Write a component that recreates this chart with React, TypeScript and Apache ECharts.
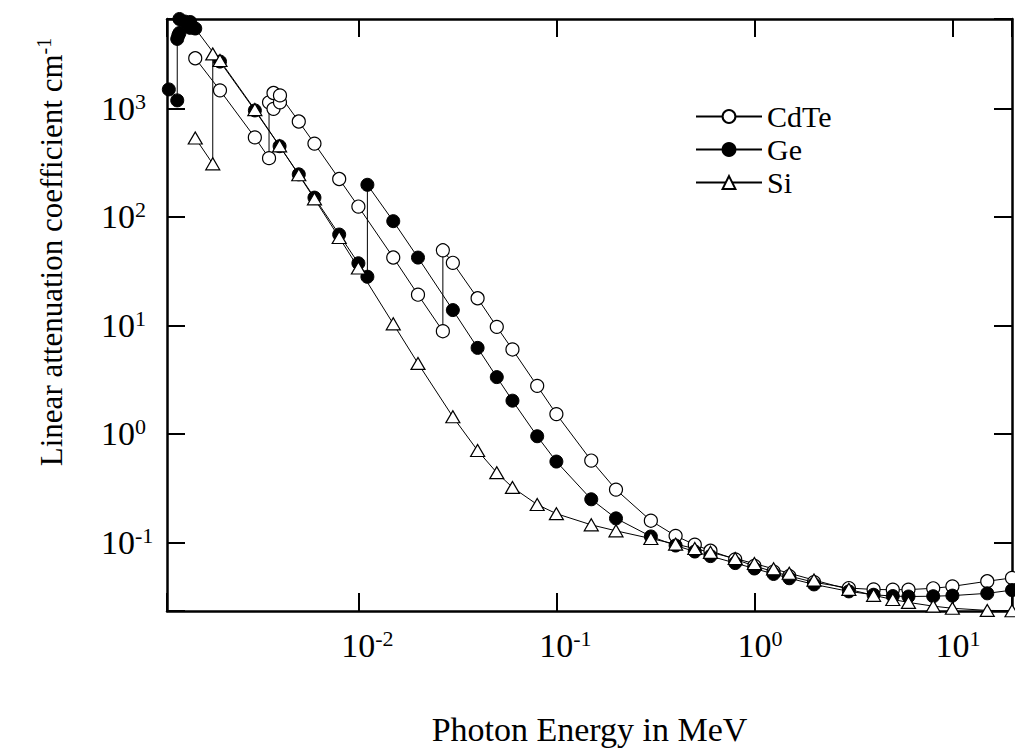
import React, { useEffect, useRef } from "react";
import * as echarts from "echarts";

// Photon energy (MeV) and attenuation coefficient values
const cdteEnergy = [0.0015, 0.002, 0.003, 0.003538, 0.003538, 0.003727, 0.003727, 0.004018, 0.004018, 0.005, 0.006, 0.008, 0.01, 0.015, 0.02, 0.02671, 0.02671, 0.03, 0.04, 0.05, 0.06, 0.08, 0.1, 0.15, 0.2, 0.3, 0.4, 0.5, 0.6, 0.8, 1, 1.25, 1.5, 2, 3, 4, 5, 6, 8, 10, 15, 20];
const cdteMu = [2911, 1472, 542, 349, 1142, 994, 1392, 1142, 1323, 760, 475, 224, 124.8, 42.3, 19.2, 8.84, 49.3, 37.8, 17.8, 9.7, 6.0, 2.77, 1.52, 0.567, 0.306, 0.158, 0.1146, 0.0949, 0.0835, 0.0695, 0.0605, 0.0535, 0.0488, 0.0428, 0.0378, 0.0367, 0.0365, 0.0366, 0.0376, 0.0392, 0.0437, 0.0469];

const geEnergy = [0.00110304, 0.0012167, 0.0012167, 0.00123215, 0.0012478, 0.0012478, 0.00132844, 0.0014143, 0.0014143, 0.0015, 0.002, 0.003, 0.004, 0.005, 0.006, 0.008, 0.01, 0.0111031, 0.0111031, 0.015, 0.02, 0.03, 0.04, 0.05, 0.06, 0.08, 0.1, 0.15, 0.2, 0.3, 0.4, 0.5, 0.6, 0.8, 1, 1.25, 1.5, 2, 3, 4, 5, 6, 8, 10, 15, 20];
const geMu = [1502, 1190, 4389, 4734, 4974, 6698, 6348, 5554, 6287, 5475, 2711, 961.3, 449.7, 247.2, 150.9, 68.9, 37.42, 28.11, 198.2, 91.52, 42.22, 13.85, 6.207, 3.335, 2.023, 0.9501, 0.555, 0.2491, 0.1661, 0.1131, 0.09327, 0.08212, 0.07452, 0.06426, 0.05727, 0.05101, 0.04657, 0.04086, 0.03524, 0.0328, 0.0319, 0.0316, 0.0318, 0.0322, 0.0338, 0.0362];

const siEnergy = [0.0015, 0.0018389, 0.0018389, 0.002, 0.003, 0.004, 0.005, 0.006, 0.008, 0.01, 0.015, 0.02, 0.03, 0.04, 0.05, 0.06, 0.08, 0.1, 0.15, 0.2, 0.3, 0.4, 0.5, 0.6, 0.8, 1, 1.25, 1.5, 2, 3, 4, 5, 6, 8, 10, 15, 20];
const siMu = [535.5, 309.2, 3192, 2777, 978.4, 452.9, 245.0, 147.0, 64.68, 33.89, 10.34, 4.464, 1.436, 0.7012, 0.4385, 0.3207, 0.2228, 0.1835, 0.1448, 0.1275, 0.1082, 0.09614, 0.08748, 0.08077, 0.07082, 0.06361, 0.05688, 0.05183, 0.0448, 0.03678, 0.0324, 0.02967, 0.02788, 0.02574, 0.02462, 0.02352, 0.02338];

const seriesNames = ["CdTe", "Ge", "Si"];
const xMin = 0.00108;
const xMax = 20;
const yMin = 0.02323;
const yMax = 6700;
const xTitle = "Photon Energy in MeV";
const yTitle = "Linear attenuation coefficient cm";
const yTitleSup = "-1";

const FONT = '"Liberation Serif", "Times New Roman", Times, serif';

function powerOf(v: number): number | null {
  const l = Math.log10(v);
  const e = Math.round(l);
  if (Math.abs(l - e) > 1e-6) return null;
  return e;
}

const pairs = (xs: number[], ys: number[]) => xs.map((x, i) => [x, ys[i]]);

export default function App() {
  const ref = useRef<HTMLDivElement>(null);

  useEffect(() => {
    if (!ref.current) return;
    const chart = echarts.init(ref.current, undefined, { renderer: "svg" });

    const baseRich = {
      fontFamily: FONT,
      fontSize: 34,
      color: "#000",
      lineHeight: 36,
    };
    const supRich = {
      fontFamily: FONT,
      fontSize: 22,
      color: "#000",
      lineHeight: 20,
      verticalAlign: "top",
    };

    const tickStyle = { show: true, inside: true, length: 18, lineStyle: { color: "#000", width: 2 } };
    const lineStyleAxis = { show: true, onZero: false, lineStyle: { color: "#000", width: 2.5 } };

    const commonLine = {
      type: "line",
      lineStyle: { color: "#000", width: 1 },
      emphasis: { disabled: true },
      animation: false,
    };

    chart.setOption({
      animation: false,
      backgroundColor: "#fff",
      grid: { left: 167, right: 2, top: 19, bottom: 136 },
      legend: {
        data: seriesNames,
        orient: "vertical",
        left: 695,
        top: 100,
        padding: 0,
        itemWidth: 66,
        itemHeight: 16,
        itemGap: 0,
        textStyle: { fontFamily: FONT, fontSize: 30, color: "#000", lineHeight: 33 },
        selectedMode: false,
      },
      xAxis: [
        {
          type: "log",
          logBase: 10,
          min: xMin,
          max: xMax,
          position: "bottom",
          axisLine: lineStyleAxis,
          axisTick: tickStyle,
          splitLine: { show: false },
          minorTick: { show: false },
          axisLabel: {
            margin: 16,
            formatter: (v: number) => {
              const e = powerOf(v);
              if (e === null) return "";
              return e < 0 ? `{bn|10}{s|${e}}` : `{bp|10}{s|${e}}`;
            },
            rich: {
              bn: { ...baseRich, padding: [0, 0, 0, 18] },
              bp: { ...baseRich, padding: [0, 0, 0, 11] },
              s: supRich,
            },
          },
          name: xTitle,
          nameLocation: "middle",
          nameGap: 101,
          nameTextStyle: { fontFamily: FONT, fontSize: 34, color: "#000" },
        },
        {
          type: "log",
          logBase: 10,
          min: xMin,
          max: xMax,
          position: "top",
          axisLine: lineStyleAxis,
          axisTick: tickStyle,
          axisLabel: { show: false },
          splitLine: { show: false },
        },
      ],
      yAxis: [
        {
          type: "log",
          logBase: 10,
          min: yMin,
          max: yMax,
          position: "left",
          axisLine: lineStyleAxis,
          axisTick: tickStyle,
          splitLine: { show: false },
          axisLabel: {
            align: "left",
            margin: 66,
            formatter: (v: number) => {
              const e = powerOf(v);
              if (e === null) return "";
              return `{b|10}{s|${e}}`;
            },
            rich: { b: baseRich, s: supRich },
          },
        },
        {
          type: "log",
          logBase: 10,
          min: yMin,
          max: yMax,
          position: "right",
          axisLine: lineStyleAxis,
          axisTick: tickStyle,
          axisLabel: { show: false },
          splitLine: { show: false },
        },
      ],
      graphic: [
        {
          type: "text",
          x: 51,
          y: 252,
          rotation: Math.PI / 2,
          style: {
            text: `{t|${yTitle}}{s|${yTitleSup}}`,
            align: "center",
            verticalAlign: "middle",
            textAlign: "center",
            textVerticalAlign: "middle",
            rich: {
              t: { fontFamily: FONT, fontSize: 31, fill: "#000", lineHeight: 34 },
              s: { fontFamily: FONT, fontSize: 20, fill: "#000", lineHeight: 18, verticalAlign: "top" },
            },
          },
        },
      ],
      series: [
        {
          ...commonLine,
          name: seriesNames[0],
          data: pairs(cdteEnergy, cdteMu),
          symbol: "circle",
          symbolSize: 13,
          itemStyle: { color: "#fff", borderColor: "#000", borderWidth: 1.2 },
        },
        {
          ...commonLine,
          name: seriesNames[1],
          data: pairs(geEnergy, geMu),
          symbol: "circle",
          symbolSize: 13,
          itemStyle: { color: "#000", borderColor: "#000", borderWidth: 1 },
        },
        {
          ...commonLine,
          name: seriesNames[2],
          data: pairs(siEnergy, siMu),
          symbol: "triangle",
          symbolSize: [14, 12],
          itemStyle: { color: "#fff", borderColor: "#000", borderWidth: 1.2 },
        },
      ],
    });

    return () => chart.dispose();
  }, []);

  return (
    <div
      ref={ref}
      style={{ position: "absolute", left: 0, top: 0, width: 1015, height: 751, background: "#fff" }}
    />
  );
}
